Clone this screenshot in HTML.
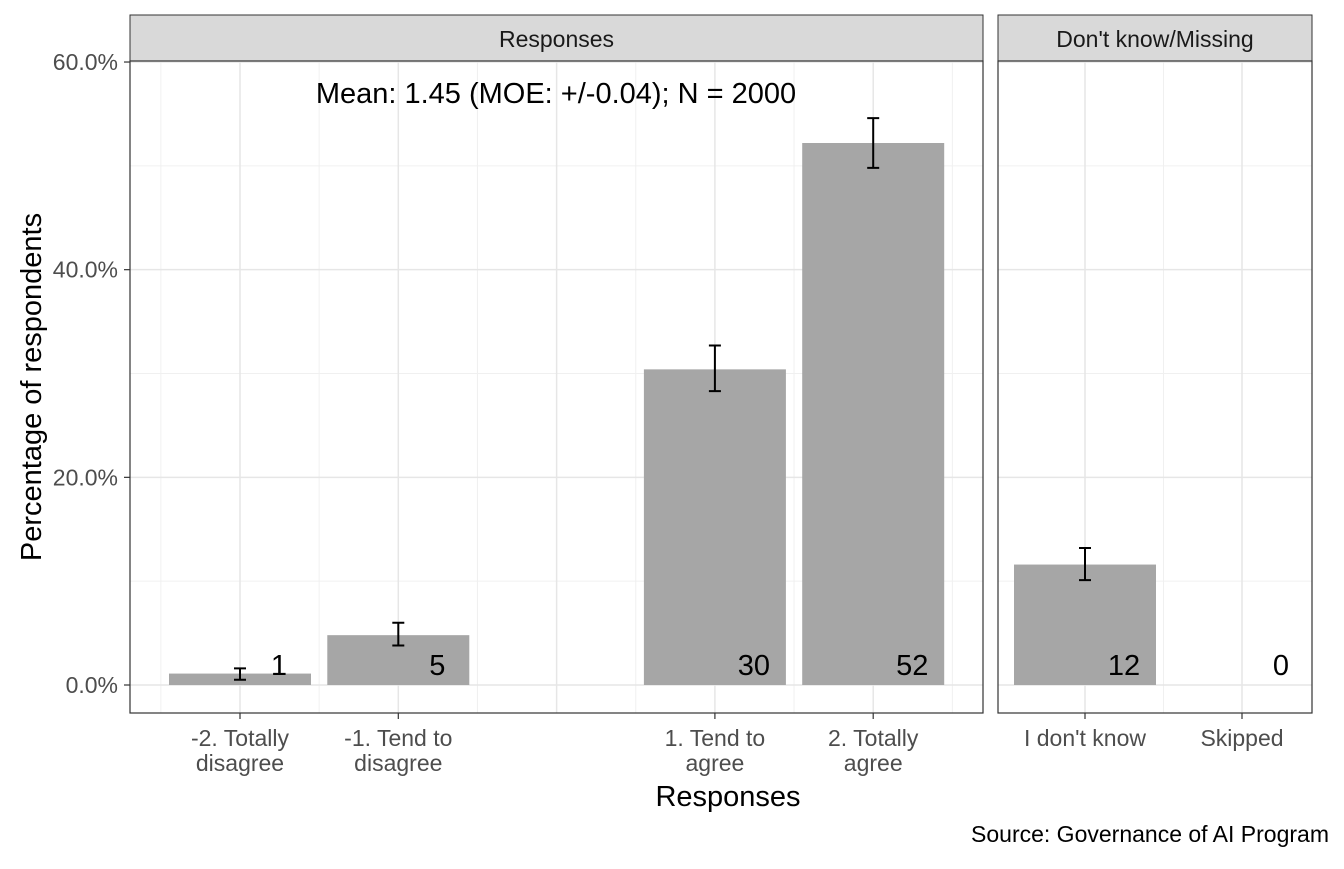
<!DOCTYPE html>
<html><head><meta charset="utf-8"><style>body{margin:0;background:#fff}svg{font-family:"Liberation Sans",Arial,sans-serif}</style></head>
<body>
<svg id="c" width="1344" height="864"></svg>
<script>
const leftCats=["-2. Totally\ndisagree","-1. Tend to\ndisagree","1. Tend to\nagree","2. Totally\nagree"];
const leftPos=[1,2,4,5];
const leftVals=[1.1,4.8,30.4,52.2];
const leftLo=[0.5,3.8,28.3,49.8];
const leftHi=[1.6,6.0,32.7,54.6];
const leftLabels=["1","5","30","52"];
const rightCats=["I don't know","Skipped"];
const rightVals=[11.6,0];
const rightLo=[10.1,null];
const rightHi=[13.2,null];
const rightLabels=["12","0"];
const yTicks=[0,20,40,60];
const yTickLabels=["0.0%","20.0%","40.0%","60.0%"];

const svg=document.getElementById('c');
const NS="http://www.w3.org/2000/svg";
function el(t,a,p){const e=document.createElementNS(NS,t);for(const k in a)e.setAttribute(k,a[k]);(p||svg).appendChild(e);return e;}
const yS=v=>685-v*10.383;
const xL=p=>240+(p-1)*158.3;
const xR=i=>1085+i*157;
const plotTop=61,plotBot=713;

function panel(x0,x1,name,strip,xs,minorXs){
  const g=el('g',{});
  
  
  el('rect',{x:x0,y:plotTop,width:x1-x0,height:plotBot-plotTop,fill:'#fff'},g);
  [10,30,50].forEach(v=>el('line',{x1:x0,x2:x1,y1:yS(v),y2:yS(v),stroke:'#f0f0f0','stroke-width':1},g));
  minorXs.forEach(x=>el('line',{x1:x,x2:x,y1:plotTop,y2:plotBot,stroke:'#f0f0f0','stroke-width':1},g));
  yTicks.forEach(v=>el('line',{x1:x0,x2:x1,y1:yS(v),y2:yS(v),stroke:'#e6e6e6','stroke-width':1.5},g));
  xs.forEach(x=>el('line',{x1:x,x2:x,y1:plotTop,y2:plotBot,stroke:'#e6e6e6','stroke-width':1.5},g));
  const s=el('rect',{x:x0,y:15,width:x1-x0,height:46,fill:'#d9d9d9',stroke:'#333','stroke-width':1},g);
  
  
  const st=el('text',{x:(x0+x1)/2,y:47,'text-anchor':'middle','font-size':23,fill:'#1a1a1a'},g);
  st.textContent=strip;
  return g;
}
const gl=panel(130,983,'responses-panel','Responses',[1,2,3,4,5].map(xL),[0.5,1.5,2.5,3.5,4.5,5.5].map(xL));
const gr=panel(998,1312,'missing-panel',"Don't know/Missing",[0,1].map(xR),[0.5].map(xR));

function bars(g,xs,vals,lo,hi,labels,prefix){
  vals.forEach((v,i)=>{
    const cx=xs[i];
    const r=el('rect',{x:cx-71,y:yS(v),width:142,height:yS(0)-yS(v),fill:'#a6a6a6'},g);
    
    
    if(lo[i]!=null){
      const e=el('path',{d:`M${cx-6},${yS(hi[i])}H${cx+6}M${cx},${yS(hi[i])}V${yS(lo[i])}M${cx-6},${yS(lo[i])}H${cx+6}`,stroke:'#000','stroke-width':2,fill:'none'},g);
      
      
    }
    const t=el('text',{x:cx+39,y:675,'text-anchor':'middle','font-size':29,fill:'#000'},g);
    
    
    t.textContent=labels[i];
  });
}
bars(gl,leftPos.map(xL),leftVals,leftLo,leftHi,leftLabels,'responses');
bars(gr,rightCats.map((c,i)=>xR(i)),rightVals,rightLo,rightHi,rightLabels,'missing');
el('rect',{x:130,y:61,width:853,height:652,fill:'none',stroke:'#333','stroke-width':1.2});
el('rect',{x:998,y:61,width:314,height:652,fill:'none',stroke:'#333','stroke-width':1.2});

const ann=el('text',{x:556,y:103,'text-anchor':'middle','font-size':29,fill:'#000'});


ann.textContent="Mean: 1.45 (MOE: +/-0.04); N = 2000";

yTicks.forEach((v,i)=>{
  el('line',{x1:124,x2:130,y1:yS(v),y2:yS(v),stroke:'#333','stroke-width':1.2});
  const t=el('text',{x:118,y:yS(v)+8,'text-anchor':'end','font-size':23,fill:'#4d4d4d'});
  
  
  t.textContent=yTickLabels[i];
});
function xlab(x,label){
  el('line',{x1:x,x2:x,y1:713,y2:719,stroke:'#333','stroke-width':1.2});
  const t=el('text',{x:x,y:746,'text-anchor':'middle','font-size':23,fill:'#4d4d4d'});
  
  
  label.split('\n').forEach((l,j)=>{const ts=el('tspan',{x:x,dy:j?25:0},t);ts.textContent=l;});
}
leftCats.forEach((c,i)=>xlab(xL(leftPos[i]),c));
rightCats.forEach((c,i)=>xlab(xR(i),c));

const xt=el('text',{x:728,y:806,'text-anchor':'middle','font-size':29,fill:'#000'});


xt.textContent="Responses";
const yt=el('text',{x:0,y:0,'text-anchor':'middle','font-size':29,fill:'#000',transform:'translate(41,387) rotate(-90)'});


yt.textContent="Percentage of respondents";
const src=el('text',{x:1329,y:842,'text-anchor':'end','font-size':23,fill:'#000'});


src.textContent="Source: Governance of AI Program";
</script>
</body></html>
